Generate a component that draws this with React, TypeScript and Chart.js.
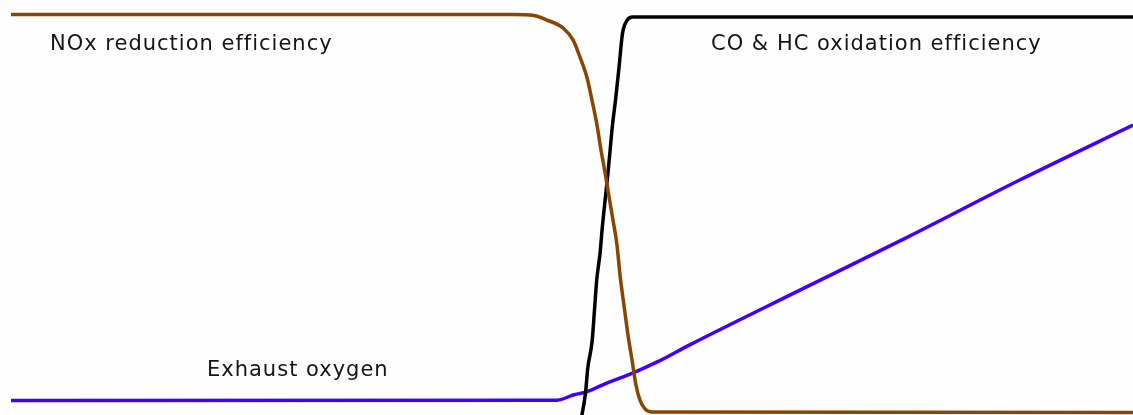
import React, { useEffect, useRef } from "react";
import { Chart, registerables } from "chart.js";

Chart.register(...registerables);

// x: arbitrary mixture axis (0 = left start, 1000 = right edge); y: efficiency / level in %
const noxX = [0, 449, 465, 477.7, 492, 500.9, 507.1, 513.4, 517.8, 522.3, 525.8, 529.4, 532.9, 536.5, 540.1, 542.8, 546.3, 549.9, 553.5, 557, 560.6, 565.1, 571.3, 1000];
const noxY = [100, 100, 99.8, 98.6, 96.6, 93.6, 89.3, 84.1, 78.5, 72.2, 66.0, 60.4, 54.4, 48.4, 42.1, 34.5, 27.0, 19.5, 13.2, 6.9, 3.1, 0.9, 0.1, 0];

const coX = [507, 512, 514, 518, 520, 522, 525, 527, 529, 532, 534, 536, 539, 542, 545, 549, 554, 1000];
const coY = [-3.3, 4.8, 11.0, 18.1, 25.6, 33.2, 40, 46.5, 52, 60, 66, 72, 79, 87, 95.2, 98.5, 99.4, 99.4];

const o2X = [0, 487, 501, 513, 531, 554, 576, 605, 700, 800, 899, 1000];
const o2Y = [3.0, 3.1, 4.4, 5.2, 7.4, 9.9, 12.7, 17.0, 30.3, 44.2, 58.4, 72.2];

const labels = [
  { text: "NOx reduction efficiency", left: 50, top: 33 },
  { text: "CO & HC oxidation efficiency", left: 711, top: 33 },
  { text: "Exhaust oxygen", left: 207, top: 359 },
];

const pts = (xs: number[], ys: number[]) => xs.map((x, i) => ({ x, y: ys[i] }));

export default function App() {
  const ref = useRef<HTMLCanvasElement | null>(null);

  useEffect(() => {
    document.body.style.margin = "0";
    document.body.style.overflow = "hidden";
    const canvas = ref.current;
    if (!canvas) return;
    const common = {
      borderWidth: 3.5,
      pointRadius: 0,
      cubicInterpolationMode: "monotone" as const,
    };
    const chart = new Chart(canvas, {
      type: "line",
      data: {
        datasets: [
          { label: "NOx reduction efficiency", data: pts(noxX, noxY), borderColor: "#8a4500", ...common },
          { label: "CO & HC oxidation efficiency", data: pts(coX, coY), borderColor: "#000000", ...common },
          { label: "Exhaust oxygen", data: pts(o2X, o2Y), borderColor: "#4000ff", ...common },
        ],
      },
      options: {
        animation: false,
        responsive: false,
        devicePixelRatio: 1,
        layout: { padding: 0 },
        plugins: { legend: { display: false }, tooltip: { enabled: false } },
        scales: {
          x: { type: "linear", min: -9.8, max: 1000, display: false },
          y: { type: "linear", min: -0.63, max: 103.64, display: false },
        },
      },
    });
    return () => chart.destroy();
  }, []);

  return (
    <div style={{ position: "relative", width: 1133, height: 415, background: "#fefefe" }}>
      <canvas ref={ref} width={1133} height={415} style={{ display: "block" }} />
      {labels.map((l) => (
        <div
          key={l.text}
          style={{
            position: "absolute",
            left: l.left,
            top: l.top,
            fontFamily: "'DejaVu Sans', sans-serif",
            fontSize: 21,
            lineHeight: "21px",
            letterSpacing: "1px",
            color: "#151515",
            whiteSpace: "nowrap",
          }}
        >
          {l.text}
        </div>
      ))}
    </div>
  );
}
